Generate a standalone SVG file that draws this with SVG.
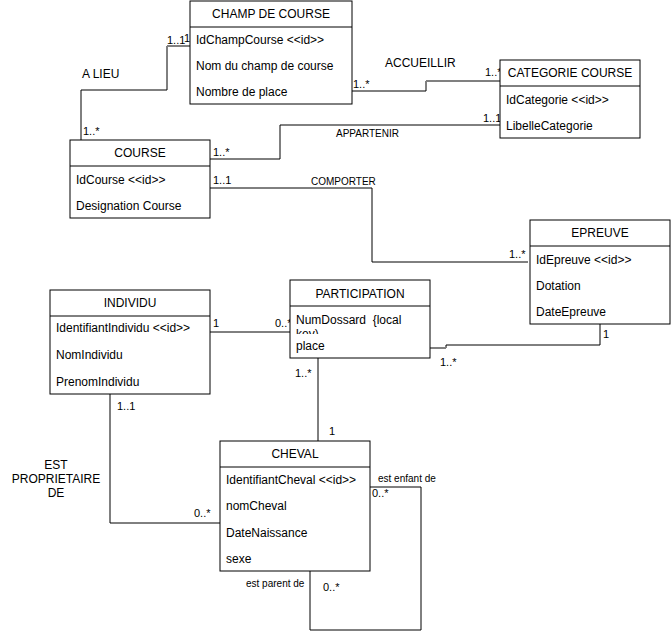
<svg xmlns="http://www.w3.org/2000/svg" width="671" height="632" viewBox="0 0 671 632">
<style>
.box{fill:#fff;stroke:#000;stroke-width:1}
.hd{font-family:"Liberation Sans",Arial,sans-serif;font-size:12px;text-anchor:middle;fill:#000}
.at{font-family:"Liberation Sans",Arial,sans-serif;font-size:12px;fill:#000}
.lb{font-family:"Liberation Sans",Arial,sans-serif;font-size:12px;fill:#000}
.sm{font-family:"Liberation Sans",Arial,sans-serif;font-size:10px;fill:#000}
.m{font-family:"Liberation Sans",Arial,sans-serif;font-size:11px;fill:#000}
.ln{fill:none;stroke:#000;stroke-width:1}
.gl{fill:none;stroke:#808080;stroke-width:2}
</style>
<rect width="671" height="632" fill="#fff"/>
<g id="connectors">
  <polyline class="ln" points="190,46 167,46 167,90 81,90 81,140"/>
  <line class="gl" x1="167" y1="46" x2="196" y2="46" stroke-width="1"/>
  <polyline class="ln" points="352,91 426,91 426,81 500,81"/>
  <line class="gl" x1="426" y1="81" x2="470" y2="81"/>
  <polyline class="ln" points="500,125 280,125 280,159 210,159"/>
  <polyline class="ln" points="210,188 372,188 372,262 528,262"/>
  <polyline class="ln" points="600,324 600,345 446,345 446,348 430,348"/>
  <line class="gl" x1="430" y1="348" x2="446" y2="348"/>
  <line class="ln" x1="210" y1="332" x2="290" y2="332"/>
  <polyline class="ln" points="318,358 318,446 326,446"/>
  <polyline class="ln" points="110,394 110,523 220,523"/>
  <polyline class="ln" points="370,487 421,487 421,630 310,630 310,571"/>
</g>
<g id="labels">
  <text class="lb" x="82" y="78">A LIEU</text>
  <text class="m" x="167" y="44">1..1</text>
  <text class="m" x="184" y="42">1</text>
  <text class="m" x="83" y="135">1..*</text>
  <text class="lb" x="385" y="67">ACCUEILLIR</text>
  <text class="m" x="353" y="88">1..*</text>
  <text class="m" x="485" y="76">1..*</text>
  <text class="sm" x="336" y="137">APPARTENIR</text>
  <text class="m" x="483" y="122">1..1</text>
  <text class="m" x="213" y="156">1..*</text>
  <text class="sm" x="311" y="185">COMPORTER</text>
  <text class="m" x="213" y="184">1..1</text>
  <text class="m" x="509" y="258">1..*</text>
  <text class="m" x="603" y="338">1</text>
  <text class="m" x="440" y="366">1..*</text>
  <text class="m" x="213" y="327">1</text>
  <text class="m" x="275" y="327">0..*</text>
  <text class="m" x="295" y="377">1..*</text>
  <text class="m" x="329" y="435">1</text>
  <text class="m" x="117" y="410">1..1</text>
  <text class="m" x="194" y="517">0..*</text>
  <text class="lb" x="56" y="469" text-anchor="middle">EST</text>
  <text class="lb" x="56" y="483" text-anchor="middle">PROPRIETAIRE</text>
  <text class="lb" x="56" y="497" text-anchor="middle">DE</text>
  <text class="sm" x="378" y="482">est enfant de</text>
  <text class="m" x="372" y="497">0..*</text>
  <text class="sm" x="246" y="587">est parent de</text>
  <text class="m" x="323" y="591">0..*</text>
</g>
<g id="champ">
  <rect class="box" x="190" y="1" width="162" height="103"/>
  <line class="ln" x1="190" y1="27" x2="352" y2="27"/>
  <text class="hd" x="271" y="18">CHAMP DE COURSE</text>
  <text class="at" x="196" y="44">IdChampCourse &lt;&lt;id&gt;&gt;</text>
  <text class="at" x="196" y="70">Nom du champ de course</text>
  <text class="at" x="196" y="96">Nombre de place</text>
</g>
<g id="categorie">
  <rect class="box" x="500" y="60" width="140" height="78"/>
  <line class="ln" x1="500" y1="86" x2="640" y2="86"/>
  <text class="hd" x="570" y="77">CATEGORIE COURSE</text>
  <text class="at" x="506" y="104">IdCategorie &lt;&lt;id&gt;&gt;</text>
  <text class="at" x="506" y="130">LibelleCategorie</text>
</g>
<g id="course">
  <rect class="box" x="70" y="140" width="140" height="78"/>
  <line class="ln" x1="70" y1="166" x2="210" y2="166"/>
  <text class="hd" x="140" y="157">COURSE</text>
  <text class="at" x="76" y="184">IdCourse &lt;&lt;id&gt;&gt;</text>
  <text class="at" x="76" y="210">Designation Course</text>
</g>
<g id="epreuve">
  <rect class="box" x="530" y="220" width="140" height="104"/>
  <line class="ln" x1="530" y1="246" x2="670" y2="246"/>
  <text class="hd" x="600" y="237">EPREUVE</text>
  <text class="at" x="536" y="264">IdEpreuve &lt;&lt;id&gt;&gt;</text>
  <text class="at" x="536" y="290">Dotation</text>
  <text class="at" x="536" y="316">DateEpreuve</text>
</g>
<g id="participation">
  <rect class="box" x="290" y="280" width="140" height="78"/>
  <line class="ln" x1="290" y1="306" x2="430" y2="306"/>
  <text class="hd" x="360" y="298">PARTICIPATION</text>
  <text class="at" x="296" y="324" style="white-space:pre">NumDossard  {local</text>
  <text class="at" x="296" y="338">key)</text>
  <rect x="291" y="334" width="138" height="10" fill="#fff"/>
  <text class="at" x="296" y="350">place</text>
</g>
<g id="individu">
  <rect class="box" x="50" y="290" width="160" height="104"/>
  <line class="ln" x1="50" y1="316" x2="210" y2="316"/>
  <text class="hd" x="130" y="307">INDIVIDU</text>
  <text class="at" x="56" y="332">IdentifiantIndividu &lt;&lt;id&gt;&gt;</text>
  <text class="at" x="56" y="359">NomIndividu</text>
  <text class="at" x="56" y="386">PrenomIndividu</text>
</g>
<g id="cheval">
  <rect class="box" x="220" y="441" width="150" height="130"/>
  <line class="ln" x1="220" y1="467" x2="370" y2="467"/>
  <text class="hd" x="295" y="458">CHEVAL</text>
  <text class="at" x="226" y="484">IdentifiantCheval &lt;&lt;id&gt;&gt;</text>
  <text class="at" x="226" y="510">nomCheval</text>
  <text class="at" x="226" y="537">DateNaissance</text>
  <text class="at" x="226" y="563">sexe</text>
</g>
</svg>
